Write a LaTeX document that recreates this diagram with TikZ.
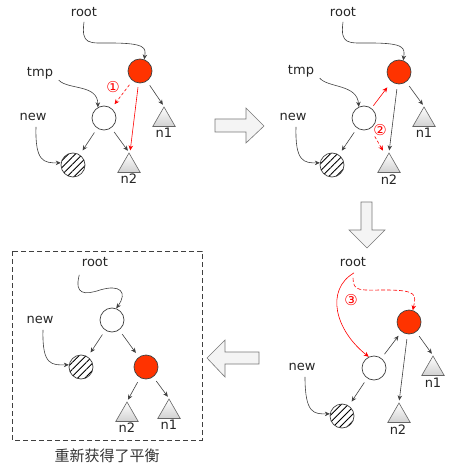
\documentclass[tikz,border=0pt]{standalone}
\usepackage{fontspec}
\setmainfont{DejaVu Sans}
\newfontfamily\cjk{Noto Sans CJK SC}
\usetikzlibrary{arrows.meta,shapes.geometric,patterns.meta}
\definecolor{nodered}{RGB}{255,51,0}
\definecolor{linegray}{RGB}{64,64,64}
\definecolor{trigray}{RGB}{100,100,100}
\definecolor{arrowfill}{RGB}{244,244,244}
\definecolor{arrowline}{RGB}{120,120,120}
\begin{document}
\begin{tikzpicture}[x=1pt,y=-1pt,
  lbl/.style={font=\fontsize{13}{15}\selectfont, text=black!85, inner sep=0pt},
  num/.style={font=\fontsize{15}{17}\selectfont, text=red, inner sep=0pt},
  circ/.style={circle, draw=linegray, line width=0.7pt, minimum size=24pt, inner sep=0pt},
  redc/.style={circ, fill=nodered},
  whitec/.style={circ, fill=white},
  hatc/.style={circ, pattern={Lines[angle=45,distance=5pt,line width=0.9pt]}, pattern color=black},
  tri/.style={regular polygon, regular polygon sides=3, minimum size=26pt, inner sep=0pt, draw=trigray, line width=0.6pt, top color=white, bottom color=black!18},
  edge/.style={draw=linegray, line width=0.6pt, -{Stealth[length=5pt,width=4.5pt]}, shorten <=5pt, shorten >=5pt},
  tedge/.style={edge, shorten >=2pt},
  rededge/.style={edge, draw=red},
  curve/.style={draw=linegray, line width=0.6pt, -{Stealth[length=5pt,width=4.5pt]}},
  redcurve/.style={curve, draw=red},
  bigarrow/.style={draw=arrowline, line width=0.6pt, fill=arrowfill},
]
\useasboundingbox (0,0) rectangle (450,470);

% ---------------- Panel 1 ----------------
\node[lbl] (rootA) at (84,12) {root};
\node[lbl] (tmpA) at (40,73) {tmp};
\node[lbl] (newA) at (33,117) {new};
\node[redc] (R1) at (140,71) {};
\node[whitec] (W1) at (104,118) {};
\node[hatc] (H1) at (73,165) {};
\node[tri] (T1a) at (164,120) {};
\node[tri] (T2a) at (129,166) {};
\node[lbl] (n1A) at (164,133) {n1};
\node[lbl] (n2A) at (129,179) {n2};
\node[num] (c1) at (113,87) {①};
\draw[curve] ([yshift=-5pt]rootA.south) .. controls (81,45) and (89,43) .. (110,43) .. controls (146,43) and (146,48) .. (R1.70);
\draw[curve] ([shift={(5.5pt,-1pt)}]tmpA.south east) .. controls (68,90) and (98,84) .. (W1.120);
\draw[curve] ([shift={(3pt,-6pt)}]newA.south) .. controls (35,162) and (44,163) .. (H1.170);
\draw[edge] (W1) -- (H1);
\draw[tedge] (W1) -- (T2a.corner 1);
\draw[tedge] (R1) -- (T1a.corner 1);
\draw[rededge, dashed, dash pattern=on 3pt off 2pt] (R1) -- (W1);
\draw[rededge, shorten <=4pt, shorten >=2pt] (R1) -- ([xshift=1pt]T2a.corner 1);

% ---------------- Panel 2 ----------------
\node[lbl] (rootB) at (343,12) {root};
\node[lbl] (tmpB) at (301,71) {tmp};
\node[lbl] (newB) at (293,117) {new};
\node[redc] (R2) at (399,72) {};
\node[whitec] (W2) at (364,118) {};
\node[hatc] (H2) at (332,165) {};
\node[tri] (T1b) at (424,120) {};
\node[tri] (T2b) at (389,166) {};
\node[lbl] (n1B) at (424,133) {n1};
\node[lbl] (n2B) at (389,180) {n2};
\node[num] (c2) at (380,130) {②};
\draw[curve] ([yshift=-5pt]rootB.south) .. controls (340,45) and (348,43) .. (370,43) .. controls (405,43) and (405,48) .. (R2.70);
\draw[curve] ([shift={(5.5pt,-1pt)}]tmpB.south east) .. controls (328,88) and (357,84) .. (W2.115);
\draw[curve] ([shift={(3pt,-6pt)}]newB.south) .. controls (295,162) and (304,163) .. (H2.170);
\draw[edge] (W2) -- (H2);
\draw[tedge] (R2) -- (T2b.corner 1);
\draw[tedge] (R2) -- (T1b.corner 1);
\draw[rededge, shorten <=3pt, shorten >=7pt] (W2) -- (R2);
\draw[rededge, dashed, dash pattern=on 3pt off 2pt, shorten <=9pt, shorten >=2pt] (W2) -- ([xshift=-5pt]T2b.corner 1);

% ---------------- Panel 3 ----------------
\node[lbl] (rootC) at (353,262) {root};
\node[lbl] (newC) at (302,367) {new};
\node[redc] (R3) at (409,322) {};
\node[whitec] (W3) at (374,368) {};
\node[hatc] (H3) at (342,416) {};
\node[tri] (T1c) at (433,369) {};
\node[tri] (T2c) at (399,416) {};
\node[lbl] (n1C) at (433,383) {n1};
\node[lbl] (n2C) at (398,430) {n2};
\node[num] (c3) at (351,300) {③};
\draw[redcurve] ([shift={(1pt,-6pt)}]rootC.south) .. controls (325,290) and (335,330) .. (W3.115);
\draw[redcurve, dashed, dash pattern=on 4pt off 2pt] ([yshift=-11pt]rootC.south) .. controls (353,292) and (360,290) .. (385,290) .. controls (418,290) and (416,295) .. (R3.72);
\draw[curve] ([shift={(3pt,-6pt)}]newC.south) .. controls (305,414) and (314,414) .. (H3.170);
\draw[edge] (W3) -- (H3);
\draw[edge] (W3) -- (R3);
\draw[tedge] (R3) -- (T2c.corner 1);
\draw[tedge] (R3) -- (T1c.corner 1);

% ---------------- Panel 4 ----------------
\draw[linegray, line width=0.6pt, dash pattern=on 5pt off 3pt] (12,251) rectangle (202,440);
\node[lbl] (rootD) at (95,262) {root};
\node[lbl] (newD) at (40,320) {new};
\node[whitec] (W4) at (112,320) {};
\node[hatc] (H4) at (81,367) {};
\node[redc] (R4) at (146,367) {};
\node[tri] (T2d) at (127,415) {};
\node[tri] (T1d) at (169,412) {};
\node[lbl] (n2D) at (127,428) {n2};
\node[lbl] (n1D) at (169,425) {n1};
\draw[curve] ([shift={(-2.5pt,-8pt)}]rootD.south west) .. controls (74,295) and (85,295) .. (100,290) .. controls (120,284) and (128,292) .. (W4.70);
\draw[curve] ([shift={(3pt,-6pt)}]newD.south) .. controls (42,366) and (52,365) .. (H4.170);
\draw[edge] (W4) -- (H4);
\draw[edge] (W4) -- (R4);
\draw[tedge] (R4) -- (T2d.corner 1);
\draw[tedge] (R4) -- (T1d.corner 1);
\node[font=\cjk\fontsize{15}{17}\selectfont, text=black!80] (cap) at (107,456) {重新获得了平衡};

% ---------------- Big hollow arrows ----------------
\draw[bigarrow] (215,119) -- (246,119) -- (246,108) -- (264,126) -- (246,143) -- (246,132) -- (215,132) -- cycle;
\draw[bigarrow] (361,202) -- (372,202) -- (372,230) -- (385,230) -- (367,248) -- (349,230) -- (361,230) -- cycle;
\draw[bigarrow] (259,352) -- (259,364) -- (225,364) -- (225,377) -- (207,358) -- (225,340) -- (225,352) -- cycle;
\end{tikzpicture}
\end{document}
